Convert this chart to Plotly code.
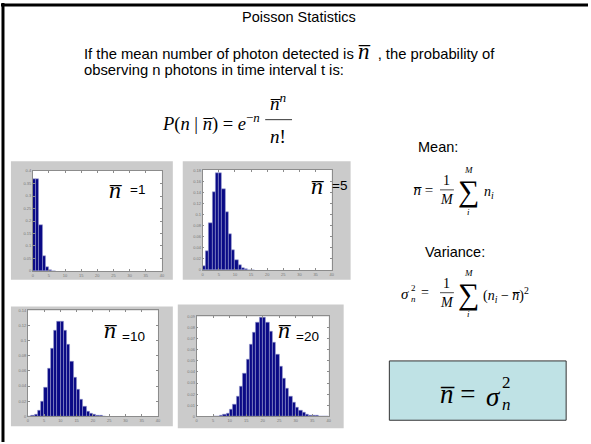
import plotly.graph_objects as go

W, H = 591, 444

# ---- data (n = photon count, p = probability) ----
n1 = [0, 1, 2, 3, 4, 5, 6]
p1 = [0.368, 0.368, 0.184, 0.061, 0.015, 0.003, 0.001]

n5 = list(range(0, 16))
p5 = [0.007, 0.034, 0.084, 0.140, 0.175, 0.175, 0.146, 0.104, 0.065, 0.036,
      0.018, 0.008, 0.003, 0.0013, 0.0005, 0.0002]

n10 = list(range(0, 24))
p10 = [0.0001, 0.0005, 0.0023, 0.0076, 0.019, 0.038, 0.063, 0.090, 0.113, 0.125,
       0.125, 0.114, 0.095, 0.073, 0.052, 0.035, 0.022, 0.013, 0.007, 0.004,
       0.002, 0.001, 0.0004, 0.0002]

n20 = list(range(5, 40))
p20 = [0.0001, 0.0002, 0.0005, 0.0013, 0.0029, 0.0058, 0.0106, 0.0176, 0.0271, 0.0387,
       0.0517, 0.0646, 0.0760, 0.0844, 0.0888, 0.0888, 0.0846, 0.0769, 0.0669, 0.0557,
       0.0446, 0.0343, 0.0254, 0.0181, 0.0125, 0.0083, 0.0054, 0.0034, 0.0020, 0.0012,
       0.0007, 0.0004, 0.0002, 0.0001, 0.0001]

y_ranges = [[0, 0.4], [0, 0.18], [0, 0.14], [0, 0.09]]
y_dticks = [0.05, 0.02, 0.02, 0.01]
panel_means = ["=1", "=5", "=10", "=20"]

# ---- layout geometry (pixels) ----
gray_boxes = [(10, 160, 173, 280), (183, 160, 352, 280), (10, 307, 173, 428), (178, 305, 345, 430)]
plot_boxes = [(32, 170, 162, 271), (203, 169, 333, 270), (27, 311, 158, 418), (197, 317, 330, 418)]
nbar_pos = [(116, 189), (319, 185), (111, 331), (286, 331)]
eq_pos = [(128, 189), (331, 185), (120, 337), (295, 337)]


def X(px):
    return px / W


def Y(py):
    return 1 - py / H


NBAR = "n\u0305"
SERIF = "Liberation Serif, Times New Roman, serif"
SANS = "Liberation Sans, Arial, sans-serif"

fig = go.Figure()
shapes = []
annotations = []


def txt(x, y, text, size=14.5, family=SANS, xanchor="center", color="black"):
    annotations.append(dict(x=X(x), y=Y(y), xref="paper", yref="paper", showarrow=False,
                            xanchor=xanchor, yanchor="middle", text=text,
                            font=dict(family=family, size=size, color=color)))


def hline(x0, x1, y, w=0.8):
    shapes.append(dict(type="line", xref="paper", yref="paper", x0=X(x0), x1=X(x1), y0=Y(y), y1=Y(y),
                       line=dict(color="black", width=w)))


series = [(n1, p1), (n5, p5), (n10, p10), (n20, p20)]
for i, ((ns, ps), (gx0, gy0, gx1, gy1), (x0, y0, x1, y1)) in enumerate(zip(series, gray_boxes, plot_boxes)):
    k = "" if i == 0 else str(i + 1)
    shapes.append(dict(type="rect", xref="paper", yref="paper", x0=X(gx0), x1=X(gx1), y0=Y(gy1), y1=Y(gy0),
                       fillcolor="#cbcbcb", line=dict(width=0), layer="below"))
    shapes.append(dict(type="rect", xref="paper", yref="paper", x0=X(x0), x1=X(x1), y0=Y(y1), y1=Y(y0),
                       fillcolor="white", line=dict(width=0), layer="below"))
    fig.add_trace(go.Bar(x=[v + 0.5 for v in ns], y=ps, width=1.0,
                         marker=dict(color="#0a0a86", line=dict(color="#9fa3d0", width=0.5)),
                         xaxis="x" + k, yaxis="y" + k, showlegend=False))
    axcommon = dict(showline=True, mirror="ticks", linecolor="#8c8c8c", linewidth=0.6,
                    ticks="inside", ticklen=2, tickcolor="#8c8c8c", showgrid=False, zeroline=False,
                    tickfont=dict(size=4, color="#777777", family=SANS))
    fig.layout["xaxis" + k] = dict(domain=[X(x0), X(x1)], range=[0, 40], dtick=5, tick0=0,
                                   anchor="y" + k, **axcommon)
    fig.layout["yaxis" + k] = dict(domain=[Y(y1), Y(y0)], range=y_ranges[i], dtick=y_dticks[i], tick0=0,
                                   anchor="x" + k, **axcommon)
    nx, ny = nbar_pos[i]
    txt(nx, ny, f"<i>{NBAR}</i>", 24, SERIF)
    ex, ey = eq_pos[i]
    txt(ex, ey, panel_means[i], 13.5, SANS, xanchor="left")

# title and intro text
txt(300, 14, "Poisson Statistics", 14.5)
txt(82, 49, "If the mean number of photon detected is <span style='font-family:Liberation Serif;font-size:23px'><i>"
    + NBAR + "</i></span>  , the probability of", 14.8, xanchor="left")
txt(82, 68, "observing n photons in time interval t is:", 14.8, xanchor="left")

# Poisson formula
txt(160, 121, f"<i>P</i>(<i>n</i> | <i>{NBAR}</i>) = <i>e</i><sup>\u2212<i>n</i></sup>", 18.5, SERIF, xanchor="left")
txt(279, 100, f"<i>{NBAR}</i><sup><i>n</i></sup>", 19, SERIF)
hline(266, 293, 118)
txt(279, 135, "<i>n</i>!", 19, SERIF)

# mean
txt(440, 146, "Mean:", 14.5)
txt(413, 189, f"<i>{NBAR}</i> =", 15, SERIF, xanchor="left")
txt(449, 180, "1", 14, SERIF)
hline(442, 456, 189, 0.7)
txt(449, 199, "<i>M</i>", 14, SERIF)
txt(471, 190, "\u2211", 30, SERIF)
txt(471, 169, "<i>M</i>", 9, SERIF)
txt(471, 211, "<i>i</i>", 9, SERIF)
txt(484, 192, "<i>n<sub>i</sub></i>", 14, SERIF, xanchor="left")

# variance
txt(457, 252, "Variance:", 14.5)
txt(407, 294, "<i>\u03c3</i>", 15, SERIF)
txt(415, 288, "2", 9, SERIF)
txt(415, 299, "<i>n</i>", 9, SERIF)
txt(427, 293, "=", 14, SERIF)
txt(449, 284, "1", 14, SERIF)
hline(442, 456, 293, 0.7)
txt(449, 303, "<i>M</i>", 14, SERIF)
txt(471, 294, "\u2211", 30, SERIF)
txt(471, 273, "<i>M</i>", 9, SERIF)
txt(471, 315, "<i>i</i>", 9, SERIF)
txt(483, 295, f"(<i>n<sub>i</sub></i> \u2212 <i>{NBAR}</i>)<sup>2</sup>", 14, SERIF, xanchor="left")

# result box
shapes.append(dict(type="rect", xref="paper", yref="paper", x0=X(391), x1=X(569), y0=Y(422), y1=Y(362),
                   fillcolor="#bfe2e5", line=dict(color="#333333", width=1)))
txt(460, 395, f"<i>{NBAR}</i> =", 27, SERIF)
txt(496, 398, "<i>\u03c3</i>", 27, SERIF)
txt(509, 384, "2", 17, SERIF)
txt(509, 406, "<i>n</i>", 17, SERIF)

# slide frame
shapes.append(dict(type="line", xref="paper", yref="paper", x0=0, x1=1, y0=Y(2), y1=Y(2),
                   line=dict(color="black", width=3)))
shapes.append(dict(type="line", xref="paper", yref="paper", x0=X(2), x1=X(2), y0=0, y1=1,
                   line=dict(color="black", width=3)))

fig.update_layout(width=W, height=H, margin=dict(l=0, r=0, t=0, b=0),
                  paper_bgcolor="white", plot_bgcolor="rgba(0,0,0,0)",
                  shapes=shapes, annotations=annotations, bargap=0)

fig.write_html("out.html", config={"displayModeBar": False},
               post_script="document.body.style.margin='0px';document.body.style.padding='0px';"
                           "document.body.style.overflow='hidden';"
                           "document.documentElement.style.overflow='hidden';")
